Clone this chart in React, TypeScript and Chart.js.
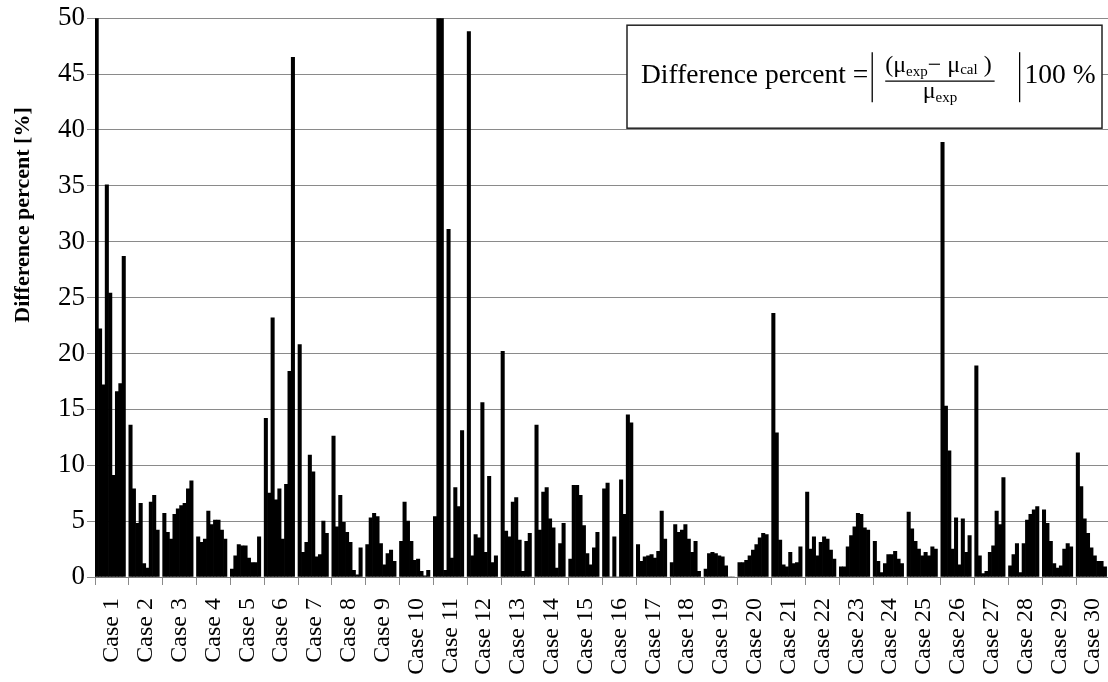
import React, { useEffect, useRef } from "react";
import { Chart, registerables } from "chart.js";

Chart.register(...registerables);

const SERIF = "'Liberation Serif', 'Times New Roman', 'DejaVu Serif', serif";
const GRID = "#8a8a8a";
const AXIS = "#7a7a7a";

// Case names shown along the x axis
const caseLabels = [
  "Case 1", "Case 2", "Case 3", "Case 4", "Case 5", "Case 6", "Case 7", "Case 8", "Case 9", "Case 10",
  "Case 11", "Case 12", "Case 13", "Case 14", "Case 15", "Case 16", "Case 17", "Case 18", "Case 19", "Case 20",
  "Case 21", "Case 22", "Case 23", "Case 24", "Case 25", "Case 26", "Case 27", "Case 28", "Case 29", "Case 30",
];

const yTicks = [0, 5, 10, 15, 20, 25, 30, 35, 40, 45, 50];

// Difference percent of each measurement, grouped by case (values above 50 run off the axis)
const case1 = [52, 22.2, 17.2, 35.1, 25.4, 9.1, 16.6, 17.3, 28.7];
const case2 = [13.6, 7.9, 4.8, 6.6, 1.2, 0.8, 6.7, 7.3, 4.2];
const case3 = [5.7, 4.0, 3.4, 5.6, 6.1, 6.4, 6.6, 7.9, 8.6];
const case4 = [3.6, 3.1, 3.4, 5.9, 4.7, 5.1, 5.1, 4.2, 3.4];
const case5 = [0.7, 1.9, 2.9, 2.8, 2.8, 1.7, 1.3, 1.3, 3.6];
const case6 = [14.2, 7.5, 23.2, 6.9, 7.9, 3.4, 8.3, 18.4, 46.5];
const case7 = [20.8, 2.2, 3.1, 10.9, 9.4, 1.8, 2.0, 5.0, 3.9];
const case8 = [12.6, 4.5, 7.3, 4.9, 4.0, 3.1, 0.6, 0.2, 2.6];
const case9 = [2.9, 5.3, 5.7, 5.4, 3.0, 1.1, 2.1, 2.4, 1.4];
const case10 = [3.2, 6.7, 5.0, 3.2, 1.5, 1.6, 0.5, 0.1, 0.6];
const case11 = [5.4, 52, 52, 0.6, 31.1, 1.7, 8.0, 6.3, 13.1];
const case12 = [48.8, 1.9, 3.8, 3.5, 15.6, 2.2, 9.0, 1.3, 1.9];
const case13 = [20.2, 4.1, 3.6, 6.7, 7.1, 3.3, 0.5, 3.2, 3.9];
const case14 = [13.6, 4.2, 7.6, 8.0, 5.2, 4.4, 0.8, 3.0, 4.8];
const case15 = [1.6, 8.2, 8.2, 7.3, 4.6, 2.1, 1.1, 2.6, 4.0];
const case16 = [7.9, 8.4, 0, 3.6, 0, 8.7, 5.6, 14.5, 13.8];
const case17 = [2.9, 1.4, 1.8, 1.9, 2.0, 1.7, 2.3, 5.9, 3.4];
const case18 = [1.3, 4.7, 4.0, 4.2, 4.7, 3.4, 2.2, 3.2, 0.5];
const case19 = [0.7, 2.1, 2.2, 2.1, 1.9, 1.8, 1.0, 0, 0];
const case20 = [1.3, 1.3, 1.5, 1.9, 2.4, 2.9, 3.5, 3.9, 3.8];
const case21 = [23.6, 12.9, 3.3, 1.1, 0.9, 2.2, 1.2, 1.3, 2.7];
const case22 = [7.6, 2.5, 3.6, 1.9, 3.1, 3.6, 3.4, 2.4, 1.6];
const case23 = [0.9, 0.9, 2.7, 3.7, 4.5, 5.7, 5.6, 4.4, 4.2];
const case24 = [3.2, 1.4, 0.4, 1.2, 2.0, 2.0, 2.3, 1.6, 1.2];
const case25 = [5.8, 4.3, 3.2, 2.5, 1.9, 2.2, 1.9, 2.7, 2.5];
const case26 = [38.9, 15.3, 11.3, 2.5, 5.3, 1.1, 5.2, 2.2, 3.7];
const case27 = [18.9, 1.9, 0.3, 0.5, 2.2, 2.8, 5.9, 4.7, 8.9];
const case28 = [1.0, 2.0, 3.0, 0.4, 3.0, 5.1, 5.6, 6.0, 6.3];
const case29 = [6.0, 4.8, 3.2, 1.2, 0.8, 1.0, 2.5, 3.0, 2.7];
const case30 = [11.1, 8.1, 5.2, 3.9, 2.6, 1.9, 1.4, 1.4, 0.9];

const caseValues = [
  case1, case2, case3, case4, case5, case6, case7, case8, case9, case10,
  case11, case12, case13, case14, case15, case16, case17, case18, case19, case20,
  case21, case22, case23, case24, case25, case26, case27, case28, case29, case30,
];

// Each case occupies ten slots: its bars followed by one empty slot as a separator
const SLOTS_PER_CASE = 10;
const slotLabels: string[] = [];
const slotValues: (number | null)[] = [];
caseValues.forEach((vals, ci) => {
  for (let s = 0; s < SLOTS_PER_CASE; s++) {
    slotLabels.push(`${caseLabels[ci]}-${s + 1}`);
    slotValues.push(s < vals.length ? vals[s] : null);
  }
});

type Run = { t: string; size: number; dy: number };

function runWidth(ctx: CanvasRenderingContext2D, runs: Run[]) {
  let w = 0;
  for (const r of runs) {
    ctx.font = `${r.size}px ${SERIF}`;
    w += ctx.measureText(r.t).width;
  }
  return w;
}

function drawRuns(ctx: CanvasRenderingContext2D, runs: Run[], x: number, y: number) {
  let cx = x;
  for (const r of runs) {
    ctx.font = `${r.size}px ${SERIF}`;
    ctx.fillText(r.t, cx, y + r.dy);
    cx += ctx.measureText(r.t).width;
  }
  return cx;
}

function vline(ctx: CanvasRenderingContext2D, x: number, y1: number, y2: number) {
  ctx.beginPath();
  ctx.moveTo(x, y1);
  ctx.lineTo(x, y2);
  ctx.stroke();
}

const annotations = {
  id: "annotations",
  afterDatasetsDraw(chart: any) {
    const { ctx, chartArea } = chart;
    ctx.save();

    // Formula box in the upper right corner
    const boxW = 475;
    const boxH = 103;
    const boxR = chartArea.right - 8;
    const boxL = boxR - boxW;
    const boxT = chartArea.top + 7;
    ctx.fillStyle = "#ffffff";
    ctx.fillRect(boxL, boxT, boxW, boxH);
    ctx.strokeStyle = "#222222";
    ctx.lineWidth = 1.5;
    ctx.strokeRect(boxL, boxT, boxW, boxH);

    ctx.fillStyle = "#000000";
    ctx.textAlign = "left";
    ctx.textBaseline = "alphabetic";
    const base = boxT + 58;
    let x = boxL + 14;
    ctx.font = `27.5px ${SERIF}`;
    const lead = "Difference percent =";
    ctx.fillText(lead, x, base);
    x += ctx.measureText(lead).width + 4;

    ctx.strokeStyle = "#000000";
    ctx.lineWidth = 1.3;
    vline(ctx, x, boxT + 27, boxT + 77);
    x += 13;

    const numer: Run[] = [
      { t: "(μ", size: 24, dy: 0 },
      { t: "exp", size: 15, dy: 4 },
      { t: "− μ", size: 24, dy: 0 },
      { t: "cal", size: 15, dy: 2 },
      { t: " )", size: 24, dy: 0 },
    ];
    const denom: Run[] = [
      { t: "μ", size: 24, dy: 0 },
      { t: "exp", size: 15, dy: 4 },
    ];
    const nw = runWidth(ctx, numer);
    const dw = runWidth(ctx, denom);
    const fw = Math.max(nw, dw) + 3;
    drawRuns(ctx, numer, x, boxT + 47);
    ctx.lineWidth = 1.2;
    ctx.beginPath();
    ctx.moveTo(x, boxT + 56);
    ctx.lineTo(x + fw, boxT + 56);
    ctx.stroke();
    drawRuns(ctx, denom, x + (fw - dw) / 2, boxT + 73);
    x += fw + 25;

    ctx.lineWidth = 1.3;
    vline(ctx, x, boxT + 27, boxT + 77);
    x += 5;
    ctx.font = `27.5px ${SERIF}`;
    ctx.fillText("100 %", x, base);

    ctx.restore();
  },
  afterDraw(chart: any) {
    const { ctx } = chart;
    ctx.save();
    ctx.translate(23, 215);
    ctx.rotate(-Math.PI / 2);
    ctx.font = `bold 22px ${SERIF}`;
    ctx.fillStyle = "#000000";
    ctx.textAlign = "center";
    ctx.textBaseline = "middle";
    ctx.fillText("Difference percent [%]", 0, 0);
    ctx.restore();
  },
};

export default function App() {
  const canvasRef = useRef<HTMLCanvasElement>(null);

  useEffect(() => {
    const canvas = canvasRef.current;
    if (!canvas) return;
    const chart = new Chart(canvas, {
      type: "bar",
      data: {
        labels: slotLabels,
        datasets: [
          {
            data: slotValues,
            backgroundColor: "#000000",
            borderWidth: 0,
            barPercentage: 1,
            categoryPercentage: 1,
            xAxisID: "x",
            yAxisID: "y",
          },
        ],
      },
      options: {
        animation: false,
        responsive: true,
        maintainAspectRatio: false,
        layout: { padding: { top: 16, right: 3, left: 0, bottom: 0 } },
        plugins: {
          legend: { display: false },
          tooltip: { enabled: false },
          title: { display: false },
        },
        scales: {
          x: {
            type: "category",
            display: false,
            offset: true,
            grid: { offset: true },
          },
          cases: {
            type: "category",
            position: "bottom",
            labels: caseLabels,
            offset: true,
            grid: {
              offset: true,
              drawOnChartArea: false,
              color: GRID,
              tickLength: 8,
            },
            border: { color: AXIS },
            ticks: {
              autoSkip: false,
              minRotation: 90,
              maxRotation: 90,
              padding: 13,
              color: "#000000",
              font: { family: SERIF, size: 24 },
            },
            afterFit: (s: any) => {
              s.height = 105;
              s.paddingLeft = 0;
              s.paddingRight = 0;
            },
          },
          y: {
            type: "linear",
            min: 0,
            max: 50,
            afterBuildTicks: (s: any) => {
              s.ticks = yTicks.map((v) => ({ value: v }));
            },
            ticks: {
              color: "#000000",
              padding: 2,
              font: { family: SERIF, size: 27 },
            },
            grid: { color: GRID, tickLength: 8, lineWidth: 1 },
            border: { color: AXIS },
            afterFit: (s: any) => {
              s.width = 95;
            },
          },
        },
      } as any,
      plugins: [annotations],
    });
    return () => chart.destroy();
  }, []);

  // The plot runs slightly past the right edge of the visible frame
  return (
    <div
      style={{
        position: "fixed",
        left: 0,
        top: 0,
        width: 1108,
        height: 682,
        overflow: "hidden",
        background: "#ffffff",
      }}
    >
      <div style={{ position: "absolute", left: 0, top: 0, width: 1113, height: 682 }}>
        <canvas ref={canvasRef} />
      </div>
    </div>
  );
}
